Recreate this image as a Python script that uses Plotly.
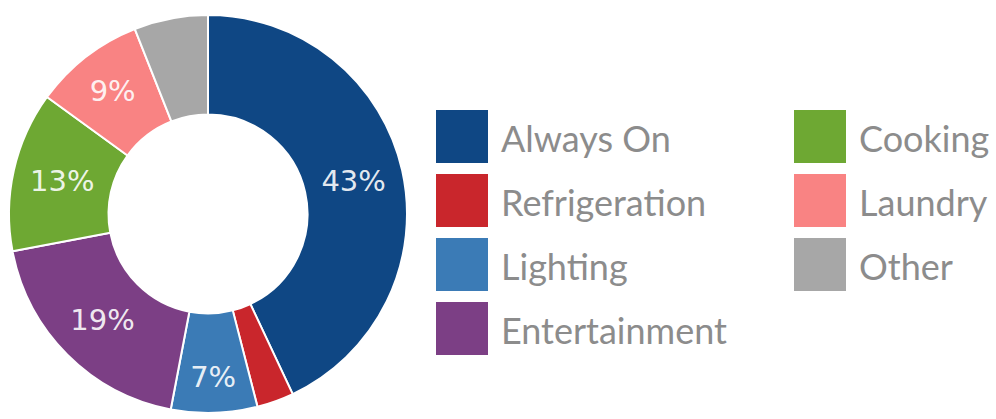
import plotly.graph_objects as go

categories = ["Always On", "Refrigeration", "Lighting", "Entertainment", "Cooking", "Laundry", "Other"]
values = [43, 3, 7, 19, 13, 9, 6]
slice_labels = ["43%", "", "7%", "19%", "13%", "9%", ""]
colors = ["#0F4784", "#C9262C", "#3B7BB6", "#7C3F85", "#6EA833", "#F98383", "#A7A7A7"]
legend_col1 = ["Always On", "Refrigeration", "Lighting", "Entertainment"]
legend_col2 = ["Cooking", "Laundry", "Other"]

W, H = 996, 419
cx, cy, r = 208, 214, 199

fig = go.Figure(go.Pie(
    labels=categories, values=values, text=slice_labels,
    textinfo="text", textposition="inside", insidetextorientation="horizontal",
    hole=0.5, sort=False, direction="clockwise", rotation=0,
    marker=dict(colors=colors, line=dict(color="white", width=2)),
    textfont=dict(family="DejaVu Sans, sans-serif", size=29, color="rgba(255,255,255,0.9)"),
    domain=dict(x=[(cx - r) / W, (cx + r) / W], y=[(H - cy - r) / H, (H - cy + r) / H]),
    showlegend=False, hoverinfo="label+percent",
))

color_of = dict(zip(categories, colors))
shapes, annotations = [], []
sq_w, sq_h, pitch, top0 = 52, 53, 64, 110
for col_x, names in [(436, legend_col1), (794, legend_col2)]:
    for i, name in enumerate(names):
        y0 = top0 + i * pitch
        shapes.append(dict(type="rect", xref="paper", yref="paper",
                           x0=col_x / W, x1=(col_x + sq_w) / W,
                           y0=1 - (y0 + sq_h) / H, y1=1 - y0 / H,
                           fillcolor=color_of[name], line=dict(width=0)))
        annotations.append(dict(xref="paper", yref="paper", x=(col_x + sq_w + 11) / W,
                                y=1 - (y0 + sq_h / 2 + 1) / H, text=name, showarrow=False,
                                xanchor="left", yanchor="middle",
                                font=dict(family="Lato, sans-serif", size=36, color="#8c8c8c")))

fig.update_layout(width=W, height=H, margin=dict(l=0, r=0, t=0, b=0),
                  paper_bgcolor="white", plot_bgcolor="white",
                  uniformtext=dict(minsize=29, mode="show"),
                  shapes=shapes, annotations=annotations)
fig.write_html("out.html")
